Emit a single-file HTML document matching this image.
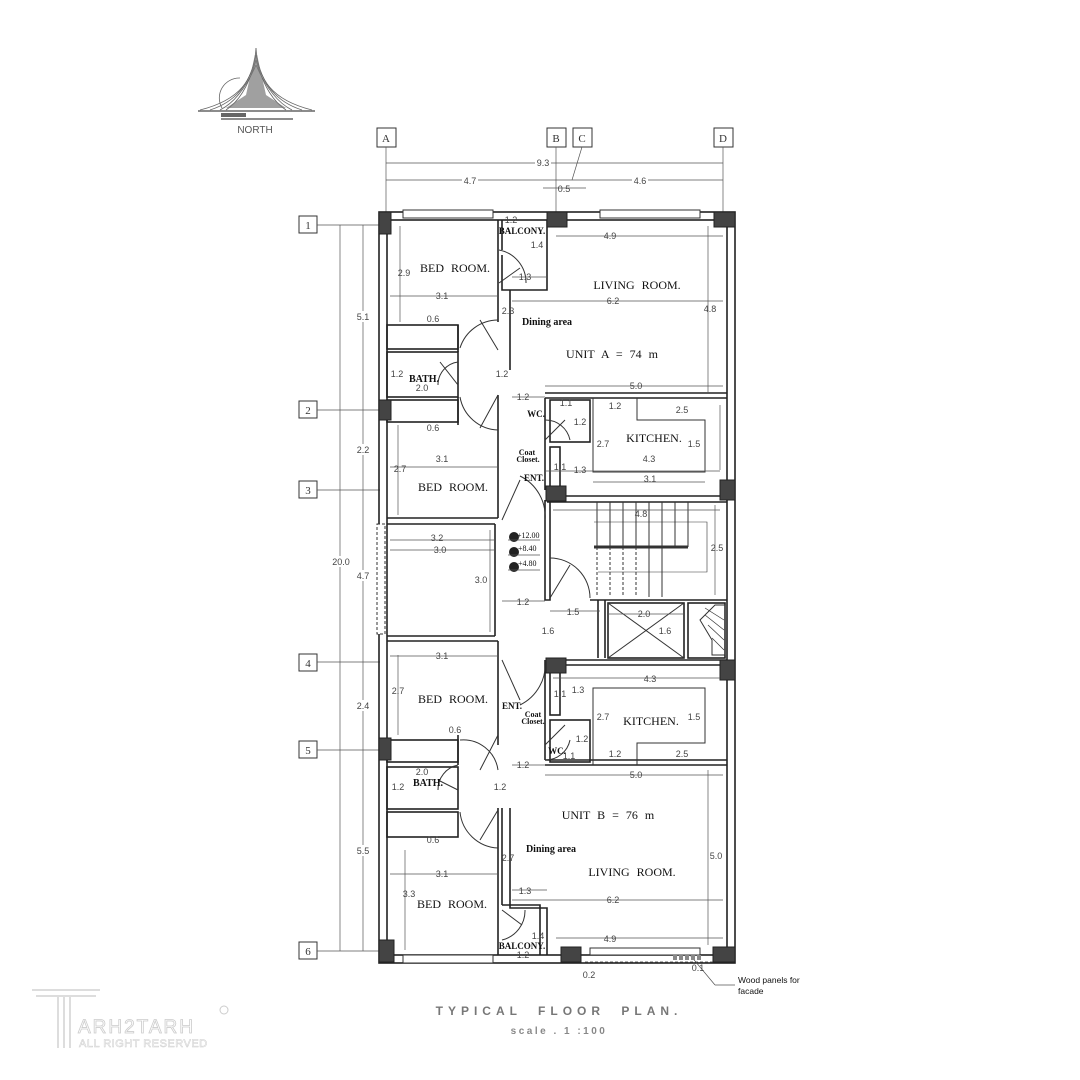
<!DOCTYPE html>
<html><head><meta charset="utf-8"><style>
html,body{margin:0;padding:0;background:#fff;}
svg{display:block}
.w{fill:none;stroke:#222;stroke-width:1.6}
.t{fill:none;stroke:#333;stroke-width:1}
.d{stroke:#555;stroke-width:0.7;fill:none}
.c{fill:#444;stroke:#222;stroke-width:1}
.n{font-family:"Liberation Sans",sans-serif;font-size:9px;fill:#444;text-anchor:middle}
.r{font-family:"Liberation Serif",serif;font-size:12px;fill:#111;text-anchor:middle;word-spacing:4px}
.s{font-family:"Liberation Serif",serif;font-size:9px;fill:#111;font-weight:bold;text-anchor:middle}
</style></head><body>
<svg width="1080" height="1080" viewBox="0 0 1080 1080" xmlns="http://www.w3.org/2000/svg">
<!-- north logo -->
<g stroke="#666" fill="none" stroke-width="0.8">
<path d="M256 48 C254 80 240 100 200 110"/><path d="M256 48 C258 80 272 100 312 110"/>
<path d="M256 55 C250 85 235 102 210 110"/><path d="M256 55 C262 85 277 102 302 110"/>
<path d="M256 65 C245 90 232 104 220 110"/><path d="M256 65 C267 90 280 104 292 110"/>
<path d="M256 60 C248 88 238 102 226 110"/><path d="M256 60 C264 88 274 102 286 110"/>
<path d="M240 78 A20 20 0 0 0 222 108"/>
<line x1="198" y1="111" x2="315" y2="111" stroke-width="1.5"/>
</g>
<path d="M256 50 L246 95 L226 108 L286 108 L266 95 Z" fill="#777" opacity="0.7"/>
<rect x="221" y="113" width="25" height="4" fill="#666"/><line x1="221" y1="119" x2="293" y2="119" stroke="#666" stroke-width="1.5"/>
<text x="255" y="133" font-family="Liberation Sans" font-size="10" fill="#555" text-anchor="middle">NORTH</text>

<!-- grid labels -->
<g font-family="Liberation Serif" font-size="11" fill="#333" text-anchor="middle">
<rect x="377" y="128" width="19" height="19" class="t"/><text x="386" y="142">A</text>
<rect x="547" y="128" width="19" height="19" class="t"/><text x="556" y="142">B</text>
<rect x="573" y="128" width="19" height="19" class="t"/><text x="582" y="142">C</text>
<rect x="714" y="128" width="19" height="19" class="t"/><text x="723" y="142">D</text>
<rect x="299" y="216" width="18" height="17" class="t"/><text x="308" y="229">1</text>
<rect x="299" y="401" width="18" height="17" class="t"/><text x="308" y="414">2</text>
<rect x="299" y="481" width="18" height="17" class="t"/><text x="308" y="494">3</text>
<rect x="299" y="654" width="18" height="17" class="t"/><text x="308" y="667">4</text>
<rect x="299" y="741" width="18" height="17" class="t"/><text x="308" y="754">5</text>
<rect x="299" y="942" width="18" height="17" class="t"/><text x="308" y="955">6</text>
</g>
<g class="d">
<line x1="386" y1="147" x2="386" y2="215"/><line x1="556" y1="147" x2="556" y2="215"/><line x1="723" y1="147" x2="723" y2="215"/>
<line x1="582" y1="147" x2="572" y2="180"/>
<line x1="386" y1="163" x2="723" y2="163"/><line x1="386" y1="180" x2="723" y2="180"/><line x1="543" y1="188" x2="586" y2="188"/>
<line x1="317" y1="225" x2="380" y2="225"/><line x1="317" y1="410" x2="380" y2="410"/><line x1="317" y1="490" x2="380" y2="490"/>
<line x1="317" y1="662" x2="380" y2="662"/><line x1="317" y1="750" x2="380" y2="750"/><line x1="317" y1="951" x2="380" y2="951"/>
<line x1="340" y1="225" x2="340" y2="951"/><line x1="363" y1="225" x2="363" y2="951"/>
</g>
<g class="n">
<rect x="535" y="157" width="16" height="10" fill="#fff"/><text x="543" y="166">9.3</text>
<rect x="462" y="175" width="16" height="10" fill="#fff"/><text x="470" y="184">4.7</text>
<rect x="632" y="175" width="16" height="10" fill="#fff"/><text x="640" y="184">4.6</text>
<text x="564" y="192">0.5</text>
<g fill="#fff"><rect x="333" y="556" width="15" height="11"/><rect x="356" y="311" width="14" height="11"/><rect x="356" y="444" width="14" height="11"/><rect x="356" y="570" width="14" height="11"/><rect x="356" y="700" width="14" height="11"/><rect x="356" y="845" width="14" height="11"/></g>
<text x="341" y="565">20.0</text><text x="363" y="320">5.1</text><text x="363" y="453">2.2</text><text x="363" y="579">4.7</text><text x="363" y="709">2.4</text><text x="363" y="854">5.5</text>
</g>

<!-- outer walls -->
<rect x="379" y="212" width="356" height="751" class="w"/>
<rect x="387" y="220" width="340" height="735" class="w"/>
<g fill="#fff" stroke="#333" stroke-width="1">
<rect x="403" y="210" width="90" height="8"/><rect x="600" y="210" width="100" height="8"/>
<rect x="403" y="955" width="90" height="8"/><rect x="590" y="948" width="110" height="7"/>
<rect x="377" y="524" width="8" height="110" stroke-dasharray="3,2"/>
</g>

<g class="w">
<polyline points="498,220 498,322"/><polyline points="502,220 502,250"/>
<rect x="387" y="325" width="71" height="24"/><line x1="458" y1="325" x2="458" y2="352"/>
<rect x="387" y="352" width="71" height="45"/>
<rect x="387" y="400" width="71" height="22"/><line x1="458" y1="397" x2="458" y2="425"/>
<line x1="498" y1="395" x2="498" y2="518"/>
<line x1="387" y1="518" x2="498" y2="518"/><line x1="387" y1="524" x2="495" y2="524"/>
<line x1="495" y1="524" x2="495" y2="636"/>
<line x1="387" y1="636" x2="495" y2="636"/><line x1="387" y1="641" x2="498" y2="641"/>
<line x1="498" y1="641" x2="498" y2="745"/>
<rect x="387" y="740" width="71" height="22"/><line x1="458" y1="735" x2="458" y2="765"/>
<rect x="387" y="767" width="71" height="42"/>
<rect x="387" y="812" width="71" height="25"/>
<line x1="498" y1="808" x2="498" y2="955"/>
<line x1="502" y1="808" x2="502" y2="905"/>
<polyline points="502,255 502,290 547,290 547,220"/>
<polyline points="510,290 510,370"/>
<line x1="545" y1="393" x2="727" y2="393"/><line x1="545" y1="398" x2="727" y2="398"/>
<line x1="545" y1="398" x2="545" y2="490"/>
<rect x="550" y="400" width="40" height="42"/>
<rect x="550" y="447" width="10" height="43"/>
<line x1="547" y1="496" x2="727" y2="496"/><line x1="547" y1="502" x2="727" y2="502"/>
<polyline points="545,500 545,600 550,600 550,502"/>
<line x1="590" y1="600" x2="727" y2="600"/>
<polyline points="598,600 598,658"/><polyline points="605,600 605,658"/>
<rect x="608" y="603" width="76" height="55"/>
<rect x="688" y="603" width="37" height="55"/>
<line x1="547" y1="660" x2="727" y2="660"/><line x1="547" y1="665" x2="727" y2="665"/>
<line x1="545" y1="660" x2="545" y2="760"/>
<rect x="550" y="665" width="10" height="50"/>
<rect x="550" y="720" width="40" height="42"/>
<line x1="545" y1="765" x2="727" y2="765"/><line x1="545" y1="760" x2="727" y2="760"/>
<polyline points="510,808 510,908 547,908 547,955"/>
<polyline points="502,905 540,905 540,955"/>
</g>
<g class="t">
<polyline points="593,398 593,472 705,472 705,420 637,420 637,398"/>
<polyline points="593,765 593,688 705,688 705,743 637,743 637,765"/>
<line x1="608" y1="603" x2="684" y2="658"/><line x1="684" y1="603" x2="608" y2="658"/>
<path d="M715 605 L725 605 L725 655 L712 655 L712 640 L700 620 Z" fill="none"/>
</g>
<g stroke="#333" stroke-width="0.7">
<line x1="705" y1="608" x2="724" y2="620"/><line x1="705" y1="615" x2="724" y2="630"/><line x1="708" y1="625" x2="724" y2="640"/><line x1="712" y1="638" x2="724" y2="650"/>
</g>
<g class="t">
<line x1="594" y1="547" x2="688" y2="547" stroke-width="3"/>
<line x1="597" y1="502" x2="597" y2="547"/><line x1="610" y1="502" x2="610" y2="547"/><line x1="623" y1="502" x2="623" y2="547"/><line x1="636" y1="502" x2="636" y2="547"/><line x1="649" y1="502" x2="649" y2="547"/><line x1="662" y1="502" x2="662" y2="547"/><line x1="675" y1="502" x2="675" y2="547"/><line x1="688" y1="502" x2="688" y2="547"/>
<line x1="597" y1="547" x2="597" y2="597" stroke-dasharray="3,2"/><line x1="610" y1="547" x2="610" y2="597" stroke-dasharray="3,2"/><line x1="623" y1="547" x2="623" y2="597" stroke-dasharray="3,2"/><line x1="636" y1="547" x2="636" y2="597" stroke-dasharray="3,2"/><line x1="649" y1="547" x2="649" y2="597"/><line x1="662" y1="547" x2="662" y2="597"/>
<polyline points="594,522 707,522 707,572 598,572" stroke-width="0.6"/>
</g>
<g class="t" stroke-width="0.8">
<path d="M499 283 L520 268 M499 250 A33 33 0 0 1 526 283"/>
<path d="M498 350 L480 320 M460 348 A40 40 0 0 1 498 320"/>
<path d="M458 385 L440 362 M458 362 A23 23 0 0 0 438 385"/>
<path d="M460 397 A40 40 0 0 0 498 430 M498 395 L480 428"/>
<path d="M545 440 L565 420 M545 420 A25 25 0 0 1 570 440"/>
<path d="M502 520 L520 480 M520 476 A45 45 0 0 1 545 520"/>
<path d="M550 598 L570 565 M550 558 A40 40 0 0 1 590 598"/>
<path d="M502 660 L520 700 M520 705 A45 45 0 0 0 545 660"/>
<path d="M545 745 L565 725 M545 760 A25 25 0 0 0 570 740"/>
<path d="M498 735 L480 770 M460 740 A35 35 0 0 1 498 770"/>
<path d="M458 790 L438 780 M458 765 A25 25 0 0 0 438 790"/>
<path d="M498 810 L480 840 M460 812 A40 40 0 0 0 498 848"/>
<path d="M502 910 L522 925 M502 940 A30 30 0 0 0 525 910"/>
</g>
<g class="c">
<rect x="379" y="212" width="12" height="22"/><rect x="547" y="212" width="20" height="15"/><rect x="714" y="212" width="21" height="15"/>
<rect x="379" y="400" width="12" height="20"/><rect x="546" y="486" width="20" height="15"/><rect x="720" y="480" width="15" height="20"/>
<rect x="546" y="658" width="20" height="15"/><rect x="720" y="660" width="15" height="20"/>
<rect x="379" y="738" width="12" height="22"/><rect x="379" y="940" width="15" height="22"/><rect x="561" y="947" width="20" height="15"/><rect x="713" y="947" width="22" height="15"/>
</g>
<g fill="#222">
<circle cx="514" cy="537" r="5"/><circle cx="514" cy="552" r="5"/><circle cx="514" cy="567" r="5"/>
</g>
<g font-family="Liberation Serif" font-size="8" fill="#111"><text x="517" y="538">+12.00</text><text x="518" y="551">+8.40</text><text x="518" y="566">+4.80</text></g>
<g class="d"><line x1="508" y1="540" x2="540" y2="540"/><line x1="508" y1="555" x2="540" y2="555"/><line x1="508" y1="570" x2="540" y2="570"/></g>

<g class="d">
<line x1="400" y1="226" x2="400" y2="322"/><line x1="390" y1="296" x2="498" y2="296"/>
<line x1="556" y1="236" x2="723" y2="236"/><line x1="512" y1="277" x2="547" y2="277"/><line x1="512" y1="301" x2="723" y2="301"/>
<line x1="708" y1="226" x2="708" y2="393"/><line x1="545" y1="386" x2="723" y2="386"/>
<line x1="545" y1="471" x2="720" y2="471"/><line x1="593" y1="482" x2="705" y2="482"/><line x1="720" y1="405" x2="720" y2="470"/>
<line x1="390" y1="467" x2="498" y2="467"/><line x1="398" y1="425" x2="398" y2="515"/>
<line x1="390" y1="540" x2="495" y2="540"/><line x1="390" y1="550" x2="495" y2="550"/><line x1="490" y1="530" x2="490" y2="632"/>
<line x1="553" y1="510" x2="720" y2="510"/><line x1="715" y1="505" x2="715" y2="595"/>
<line x1="502" y1="601" x2="545" y2="601"/><line x1="550" y1="611" x2="600" y2="611"/><line x1="608" y1="614" x2="684" y2="614"/>
<line x1="390" y1="656" x2="498" y2="656"/><line x1="398" y1="655" x2="398" y2="735"/>
<line x1="553" y1="678" x2="720" y2="678"/><line x1="545" y1="775" x2="723" y2="775"/>
<line x1="708" y1="770" x2="708" y2="945"/><line x1="390" y1="874" x2="498" y2="874"/><line x1="405" y1="850" x2="405" y2="950"/>
<line x1="512" y1="890" x2="547" y2="890"/><line x1="512" y1="900" x2="723" y2="900"/><line x1="556" y1="938" x2="723" y2="938"/>
<line x1="512" y1="765" x2="545" y2="765"/><line x1="512" y1="397" x2="545" y2="397"/>
<line x1="690" y1="955" x2="715" y2="985"/><line x1="715" y1="985" x2="735" y2="985"/>
</g>
<g class="n">
<text x="511" y="223">1.2</text><text x="537" y="248">1.4</text><text x="525" y="280">1.3</text><text x="610" y="239">4.9</text>
<text x="404" y="276">2.9</text><text x="442" y="299">3.1</text><text x="613" y="304">6.2</text><text x="508" y="314">2.3</text><text x="710" y="312">4.8</text>
<text x="433" y="322">0.6</text><text x="397" y="377">1.2</text><text x="422" y="391">2.0</text><text x="502" y="377">1.2</text><text x="523" y="400">1.2</text><text x="636" y="389">5.0</text>
<text x="433" y="431">0.6</text><text x="442" y="462">3.1</text><text x="400" y="472">2.7</text>
<text x="566" y="406">1.1</text><text x="615" y="409">1.2</text><text x="682" y="413">2.5</text><text x="580" y="425">1.2</text><text x="603" y="447">2.7</text><text x="694" y="447">1.5</text>
<text x="560" y="470">1.1</text><text x="580" y="473">1.3</text><text x="649" y="462">4.3</text><text x="650" y="482">3.1</text>
<text x="437" y="541">3.2</text><text x="440" y="553">3.0</text><text x="481" y="583">3.0</text>
<text x="641" y="517">4.8</text><text x="717" y="551">2.5</text>
<text x="523" y="605">1.2</text><text x="573" y="615">1.5</text><text x="644" y="617">2.0</text><text x="548" y="634">1.6</text><text x="665" y="634">1.6</text>
<text x="442" y="659">3.1</text><text x="398" y="694">2.7</text><text x="650" y="682">4.3</text><text x="560" y="697">1.1</text><text x="578" y="693">1.3</text>
<text x="603" y="720">2.7</text><text x="694" y="720">1.5</text><text x="582" y="742">1.2</text><text x="455" y="733">0.6</text>
<text x="569" y="759">1.1</text><text x="615" y="757">1.2</text><text x="682" y="757">2.5</text>
<text x="422" y="775">2.0</text><text x="523" y="768">1.2</text><text x="636" y="778">5.0</text><text x="398" y="790">1.2</text><text x="500" y="790">1.2</text>
<text x="433" y="843">0.6</text><text x="508" y="861">2.7</text><text x="716" y="859">5.0</text>
<text x="442" y="877">3.1</text><text x="409" y="897">3.3</text><text x="525" y="894">1.3</text><text x="613" y="903">6.2</text>
<text x="538" y="939">1.4</text><text x="610" y="942">4.9</text><text x="523" y="958">1.2</text><text x="589" y="978">0.2</text><text x="698" y="971">0.1</text>
</g>
<g class="r">
<text x="455" y="272">BED ROOM.</text><text x="637" y="289">LIVING   ROOM.</text>
<text x="612" y="358">UNIT A = 74 m</text>
<text x="453" y="491">BED ROOM.</text><text x="654" y="442">KITCHEN.</text>
<text x="453" y="703">BED ROOM.</text><text x="651" y="725">KITCHEN.</text>
<text x="608" y="819">UNIT B = 76 m</text><text x="632" y="876">LIVING   ROOM.</text>
<text x="452" y="908">BED ROOM.</text>
</g>
<g class="s">
<text x="522" y="234">BALCONY.</text><text x="547" y="325" font-size="10">Dining area</text>
<text x="424" y="382" font-size="10">BATH.</text><text x="536" y="417">WC.</text>
<text x="527" y="455" font-size="8">Coat</text><text x="528" y="462" font-size="8">Closet.</text><text x="534" y="481">ENT.</text>
<text x="512" y="709">ENT.</text><text x="533" y="717" font-size="8">Coat</text><text x="533" y="724" font-size="8">Closet.</text>
<text x="557" y="754">WC.</text><text x="428" y="786" font-size="10">BATH.</text>
<text x="551" y="852" font-size="10">Dining area</text><text x="522" y="949">BALCONY.</text>
</g>
<g fill="#888"><rect x="673" y="955" width="4" height="5"/><rect x="679" y="955" width="4" height="5"/><rect x="685" y="955" width="4" height="5"/><rect x="691" y="955" width="4" height="5"/><rect x="697" y="955" width="4" height="5"/></g>
<line x1="585" y1="962" x2="715" y2="962" stroke="#333" stroke-dasharray="3,2" stroke-width="0.8"/>
<text x="738" y="983" font-family="Liberation Sans" font-size="8.5" fill="#111">Wood panels for</text>
<text x="738" y="994" font-family="Liberation Sans" font-size="8.5" fill="#111">facade</text>
<text x="559" y="1015" font-family="Liberation Sans" font-size="12" font-weight="bold" fill="#777" text-anchor="middle" letter-spacing="5" word-spacing="8">TYPICAL FLOOR PLAN.</text>
<text x="559" y="1034" font-family="Liberation Sans" font-size="10" font-weight="bold" fill="#888" text-anchor="middle" letter-spacing="2.5">scale . 1 :100</text>
<g fill="none" stroke="#ddd" stroke-width="2">
<line x1="32" y1="990" x2="100" y2="990"/><line x1="36" y1="996" x2="96" y2="996"/>
<line x1="58" y1="996" x2="58" y2="1048"/><line x1="64" y1="996" x2="64" y2="1048"/><line x1="70" y1="996" x2="70" y2="1048"/>
</g>
<text x="78" y="1033" font-family="Liberation Sans" font-size="19" fill="#fff" stroke="#ccc" stroke-width="0.8" letter-spacing="2">ARH2TARH</text>
<text x="79" y="1047" font-family="Liberation Sans" font-size="11" fill="#fff" stroke="#ccc" stroke-width="0.5" letter-spacing="0.5">ALL RIGHT RESERVED</text>
<circle cx="224" cy="1010" r="4" fill="none" stroke="#ccc"/>
</svg>
</body></html>
